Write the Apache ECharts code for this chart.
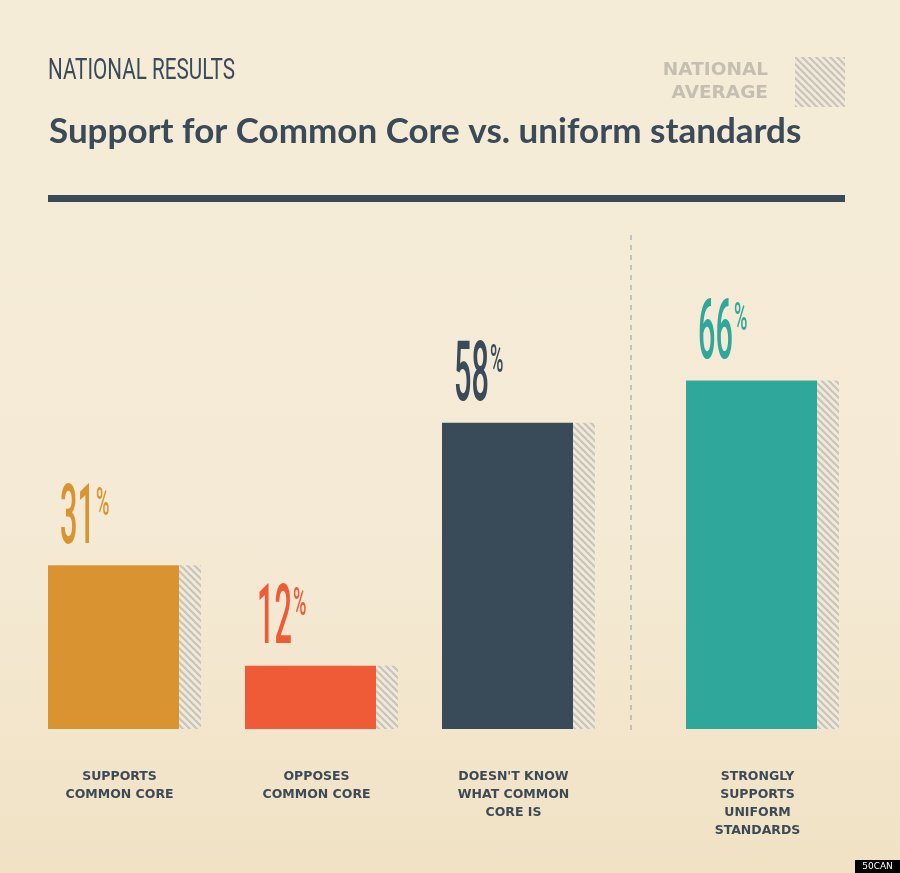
<!DOCTYPE html>
<html><head><meta charset="utf-8">
<script src="https://cdn.jsdelivr.net/npm/echarts@6/dist/echarts.min.js"></script>
<style>
html,body{margin:0;padding:0;}
#c{width:900px;height:873px;background:linear-gradient(180deg,#f5ecd8 0%,#f4ead5 60%,#f1e2c4 100%);}
</style>
</head><body><div id="c"></div>
<script>
// ---- data ----
const categoriesLeft = ['SUPPORTS\nCOMMON CORE', 'OPPOSES\nCOMMON CORE', "DOESN'T KNOW\nWHAT COMMON\nCORE IS"];
const categoriesRight = ['STRONGLY\nSUPPORTS\nUNIFORM\nSTANDARDS'];
const valuesLeft = [31, 12, 58];
const valuesRight = [66];
const nationalLeft = [31, 12, 58];
const nationalRight = [66];
const colorsLeft = ['#d99431', '#ef5b37', '#394a59'];
const colorsRight = ['#2fa79a'];

function makeHatch() {
  const s = 7;
  const c = document.createElement('canvas');
  c.width = s; c.height = s;
  const g = c.getContext('2d');
  g.fillStyle = '#f0eadc';
  g.fillRect(0, 0, s, s);
  g.strokeStyle = '#cbc4b5';
  g.lineWidth = 2.2;
  for (let k = -1; k <= 1; k++) {
    g.beginPath();
    g.moveTo(k * s - 1, -1);
    g.lineTo(k * s + s + 1, s + 1);
    g.stroke();
  }
  return c;
}
const hatch = { image: makeHatch(), repeat: 'repeat' };

const measureCtx = document.createElement('canvas').getContext('2d');
function textWidth(txt, font) { measureCtx.font = font; return measureCtx.measureText(txt).width; }

const numFont = '500 83px Roboto';
const pctFont = '500 38px Roboto';
const numScale = 0.37;
const pctScale = 0.48;

function mainData(vals, cols) {
  return vals.map((v, i) => ({ value: v, itemStyle: { color: cols[i] } }));
}

// value labels drawn through the axes' own scales (condensed via scaleX)
function labelSeries(axisIdx, vals, cols) {
  return {
    type: 'custom', xAxisIndex: axisIdx, yAxisIndex: axisIdx, silent: true, z: 5,
    data: vals.map((v, i) => [i, v]),
    renderItem: function (params, api) {
      const idx = api.value(0), v = api.value(1);
      const pt = api.coord([idx, v]);
      const x0 = pt[0] - 76.5 + 12;
      const capBottom = pt[1] - 21;
      const capH = 59;
      const numTxt = String(v);
      const w = textWidth(numTxt, numFont) * numScale;
      const col = cols[idx];
      return {
        type: 'group',
        children: [
          { type: 'text', x: x0, y: capBottom - capH / 2 + 7, scaleX: numScale,
            style: { text: numTxt, font: numFont, fill: col, verticalAlign: 'middle', align: 'left' } },
          { type: 'text', x: x0 + w + 1, y: capBottom - capH + 20, scaleX: pctScale,
            style: { text: '%', font: pctFont, fill: col, verticalAlign: 'middle', align: 'left' } }
        ]
      };
    }
  };
}

const axisLabelStyle = {
  interval: 0,
  margin: 39,
  color: '#3c4a57',
  fontFamily: 'DejaVu Sans',
  fontWeight: 'bold',
  fontSize: 12.5,
  lineHeight: 18,
  padding: [0, 10, 0, 0]
};

const headFont = '30px Roboto';
const headText = 'NATIONAL RESULTS';
const headScale = 187 / textWidth(headText, headFont);

const chart = echarts.init(document.getElementById('c'), null, { renderer: 'canvas' });
chart.setOption({
  backgroundColor: 'transparent',
  animation: false,
  title: [
    { text: 'Support for Common Core vs. uniform standards', left: 44, top: 109,
      textStyle: { fontFamily: 'Lato', fontWeight: 'bold', fontSize: 35, color: '#3a4a58' } }
  ],
  legend: {
    data: ['NATIONAL AVERAGE'],
    right: 55, top: 57, padding: 0,
    itemWidth: 50, itemHeight: 50,
    align: 'right', icon: 'rect',
    selectedMode: false,
    formatter: () => 'NATIONAL\nAVERAGE',
    textStyle: { color: '#c5bfb1', fontFamily: 'DejaVu Sans', fontWeight: 'bold', fontSize: 18.5, lineHeight: 23, padding: [0, 22, 0, 0] }
  },
  grid: [
    { left: 26, width: 591, top: 201, bottom: 144 },
    { left: 664, width: 197, top: 201, bottom: 144 }
  ],
  xAxis: [
    { type: 'category', gridIndex: 0, data: categoriesLeft, axisLine: { show: false }, axisTick: { show: false }, axisLabel: axisLabelStyle },
    { type: 'category', gridIndex: 1, data: categoriesRight, axisLine: { show: false }, axisTick: { show: false }, axisLabel: axisLabelStyle }
  ],
  yAxis: [
    { type: 'value', gridIndex: 0, min: 0, max: 100, show: false, splitLine: { show: false } },
    { type: 'value', gridIndex: 1, min: 0, max: 100, show: false, splitLine: { show: false } }
  ],
  graphic: [
    { type: 'text', x: 48, y: 71, scaleX: headScale,
      style: { text: headText, font: headFont, fill: '#3a4a58', verticalAlign: 'middle', align: 'left' } },
    { type: 'rect', left: 48, top: 195, shape: { width: 797, height: 7 }, style: { fill: '#3a4a58' } },
    { type: 'line', shape: { x1: 631, y1: 235, x2: 631, y2: 730 }, style: { stroke: '#8e9ba3', lineWidth: 1, lineDash: [5, 5] } },
    { type: 'group', right: 0, bottom: 0, children: [
      { type: 'rect', shape: { x: 0, y: 0, width: 45, height: 13 }, style: { fill: '#000' } },
      { type: 'text', x: 22.5, y: 7, style: { text: '50CAN', fill: '#fff', font: '9px "DejaVu Sans"', align: 'center', verticalAlign: 'middle' } }
    ] }
  ],
  series: [
    { type: 'bar', name: 'Result', xAxisIndex: 0, yAxisIndex: 0, barWidth: 131, barGap: '0%', data: mainData(valuesLeft, colorsLeft) },
    { type: 'bar', name: 'NATIONAL AVERAGE', xAxisIndex: 0, yAxisIndex: 0, barWidth: 22, barGap: '0%', data: nationalLeft, itemStyle: { color: hatch } },
    { type: 'bar', name: 'Result', xAxisIndex: 1, yAxisIndex: 1, barWidth: 131, barGap: '0%', data: mainData(valuesRight, colorsRight) },
    { type: 'bar', name: 'NATIONAL AVERAGE', xAxisIndex: 1, yAxisIndex: 1, barWidth: 22, barGap: '0%', data: nationalRight, itemStyle: { color: hatch } },
    labelSeries(0, valuesLeft, colorsLeft),
    labelSeries(1, valuesRight, colorsRight)
  ]
});
</script>
</body></html>
